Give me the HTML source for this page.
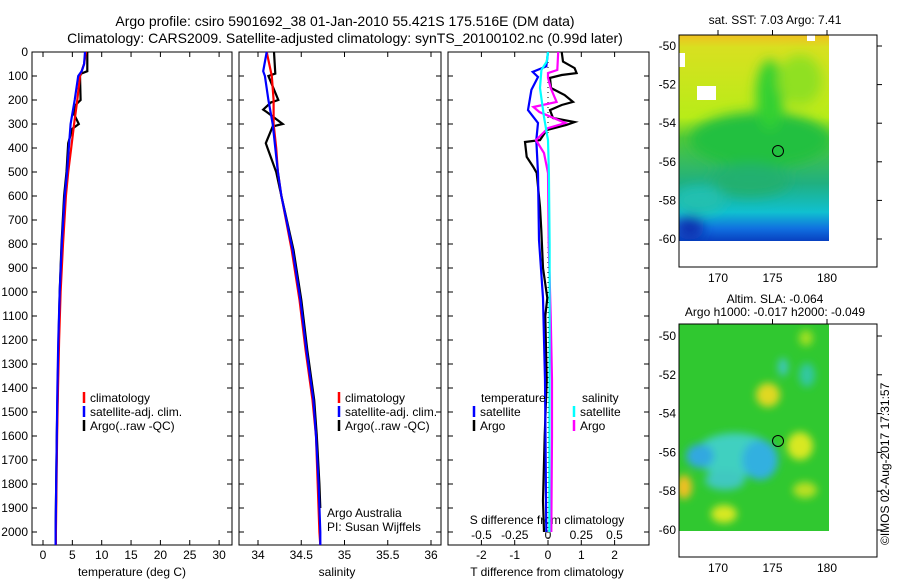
<!DOCTYPE html>
<html><head><meta charset="utf-8"><style>
html,body{margin:0;padding:0;background:#fff;}
svg{display:block;font-family:"Liberation Sans",sans-serif;}
text{fill:#000;}
</style></head><body>
<svg id="chart" width="900" height="580" viewBox="0 0 900 580" xmlns="http://www.w3.org/2000/svg">
<defs>
<filter id="blur1" x="-20%" y="-20%" width="140%" height="140%"><feGaussianBlur stdDeviation="6"/></filter>
<filter id="blur2" x="-50%" y="-50%" width="200%" height="200%"><feGaussianBlur stdDeviation="4"/></filter>
<clipPath id="clipMap1"><rect x="679" y="35" width="150" height="206"/></clipPath>
<clipPath id="clipMap2"><rect x="679" y="324" width="150" height="207"/></clipPath>
<linearGradient id="sstGrad" x1="0" y1="0" x2="0" y2="1">
<stop offset="0" stop-color="#f0c020"/><stop offset="0.06" stop-color="#d8e020"/><stop offset="0.4" stop-color="#b8ec18"/><stop offset="0.5" stop-color="#50c838"/><stop offset="0.72" stop-color="#20b080"/><stop offset="0.86" stop-color="#10c0d0"/><stop offset="0.94" stop-color="#1070e0"/><stop offset="1" stop-color="#0840c0"/>
</linearGradient>
</defs>
<g id="titles">
<text x="345" y="26" font-size="14" text-anchor="middle">Argo profile: csiro 5901692_38 01-Jan-2010 55.421S 175.516E (DM data)</text>
<text x="345" y="43" font-size="14" text-anchor="middle">Climatology: CARS2009. Satellite-adjusted climatology: synTS_20100102.nc (0.99d later)</text>
</g>
<g id="panels"></g>
<g id="maps">
<text x="775" y="24" font-size="12" text-anchor="middle">sat. SST: 7.03 Argo: 7.41</text>
<g clip-path="url(#clipMap1)">
<rect x="679" y="35" width="150" height="206" fill="url(#sstGrad)"/>
<g filter="url(#blur1)">
<ellipse cx="760" cy="140" rx="70" ry="28" fill="#20c040"/>
<ellipse cx="770" cy="95" rx="14" ry="35" fill="#30d030"/>
<ellipse cx="700" cy="200" rx="25" ry="14" fill="#20c0b0"/>
<ellipse cx="750" cy="180" rx="40" ry="16" fill="#20b070"/>
<ellipse cx="690" cy="228" rx="14" ry="12" fill="#0830b0"/>
<ellipse cx="800" cy="80" rx="22" ry="25" fill="#90e020"/>
</g>
<rect x="679" y="53" width="6" height="14" fill="#fff"/>
<rect x="697" y="86" width="19" height="14" fill="#fff"/>
<rect x="807" y="35" width="8" height="6" fill="#fff"/>
</g>
<circle cx="778" cy="151" r="5.5" fill="none" stroke="#000" stroke-width="1"/>
<rect x="679" y="35" width="198" height="232" fill="none" stroke="#000" stroke-width="1"/>
<text x="775" y="303" font-size="12" text-anchor="middle">Altim. SLA: -0.064</text>
<text x="775" y="316" font-size="12" text-anchor="middle">Argo h1000: -0.017 h2000: -0.049</text>
<g clip-path="url(#clipMap2)">
<rect x="679" y="324" width="150" height="207" fill="#30c830"/>
<g filter="url(#blur2)">
<ellipse cx="735" cy="455" rx="40" ry="22" fill="#40d0c0"/>
<ellipse cx="760" cy="460" rx="18" ry="20" fill="#30b0e0"/>
<ellipse cx="700" cy="456" rx="14" ry="12" fill="#30a8e0"/>
<ellipse cx="725" cy="480" rx="20" ry="10" fill="#40c8c0"/>
<ellipse cx="768" cy="395" rx="12" ry="12" fill="#e0d820"/>
<ellipse cx="800" cy="446" rx="13" ry="14" fill="#d8e820"/>
<ellipse cx="684" cy="487" rx="8" ry="12" fill="#f0c020"/>
<ellipse cx="724" cy="514" rx="13" ry="9" fill="#d8e820"/>
<ellipse cx="805" cy="490" rx="12" ry="8" fill="#b8e020"/>
<ellipse cx="807" cy="375" rx="8" ry="12" fill="#30c8a0"/>
<ellipse cx="783" cy="367" rx="5" ry="9" fill="#40c8c0"/>
<ellipse cx="806" cy="338" rx="7" ry="8" fill="#a0e020"/>
</g>
</g>
<circle cx="778" cy="441" r="5.5" fill="none" stroke="#000" stroke-width="1"/>
<rect x="679" y="324" width="198" height="233" fill="none" stroke="#000" stroke-width="1"/>
<g id="mapAxes"></g>
<text x="889" y="545" font-size="12" transform="rotate(-90 889 545)">©IMOS 02-Aug-2017 17:31:57</text>
</g>
</svg>
<script>
// ---- data ----
const depthTicks = [0,100,200,300,400,500,600,700,800,900,1000,1100,1200,1300,1400,1500,1600,1700,1800,1900,2000];
const tempTicks = [0,5,10,15,20,25,30];
const salTicks = [34,34.5,35,35.5,36];
const salTickLabels = ["34","34.5","35","35.5","36"];
const tdiffTicks = [-2,-1,0,1,2];
const sdiffTicks = [-0.5,-0.25,0,0.25,0.5];
const sdiffTickLabels = ["-0.5","-0.25","0","0.25","0.5"];

const climTDepth = [0,50,100,200,300,400,500,600,800,1000,1200,1400,1600,1800,2000,2054];
const climTVals  = [7.3,7.0,6.3,5.85,5.3,4.8,4.3,3.9,3.4,3.0,2.75,2.55,2.4,2.3,2.2,2.2];
const satTDepth  = [0,50,80,100,200,300,400,500,600,800,1000,1200,1400,1600,1800,2000,2054];
const satTVals   = [7.15,7.0,6.6,6.0,5.4,4.7,4.4,4.1,3.7,3.2,2.85,2.6,2.45,2.35,2.25,2.15,2.15];
const argoTDepth = [0,80,90,100,200,210,220,260,300,320,380,500,600,800,1000,1200,1400,1600,1800,2000];
const argoTVals  = [7.55,7.55,6.5,6.3,6.4,6.0,5.6,5.3,6.1,5.0,4.3,4.0,3.6,3.15,2.85,2.65,2.5,2.35,2.25,2.15];

const climSDepth = [0,100,200,300,400,500,600,825,1033,1242,1450,1600,1800,2000,2054];
const climSVals  = [34.10,34.16,34.18,34.18,34.21,34.23,34.27,34.39,34.48,34.55,34.63,34.67,34.69,34.71,34.72];
const satSDepth  = [0,80,100,200,300,400,500,600,825,1033,1242,1450,1600,1800,2000,2054];
const satSVals   = [34.10,34.06,34.08,34.12,34.17,34.20,34.23,34.27,34.40,34.49,34.56,34.64,34.67,34.70,34.72,34.72];
const argoSDepth = [0,90,100,200,210,240,250,300,310,380,400,500,600,825,1033,1242,1450,1600,1800,1900];
const argoSVals  = [34.185,34.20,34.12,34.235,34.15,34.06,34.10,34.285,34.17,34.09,34.11,34.21,34.27,34.41,34.50,34.57,34.65,34.68,34.71,34.72];

const dTArgoDepth = [0,40,67,88,96,108,150,179,208,221,242,275,292,304,325,367,375,437,479,504,646,742,900,1025,1100,1367,1600,1870,2000];
const dTArgoVals  = [0.41,0.45,0.8,0.86,0.41,0.06,0.09,0.5,0.75,0.41,0.06,0.15,0.8,0.55,-0.04,-0.24,-0.69,-0.64,-0.44,-0.34,-0.24,-0.2,-0.15,-0.02,-0.08,-0.04,-0.1,-0.15,-0.12];
const dTSatDepth  = [0,60,83,104,158,242,296,367,504,783,1025,1367,1700,2000];
const dTSatVals   = [0.0,-0.05,-0.46,-0.3,-0.5,-0.6,-0.3,-0.35,-0.3,-0.27,-0.15,-0.09,-0.07,-0.05];
const dSArgoDepth = [0,75,88,108,150,208,229,250,296,317,367,421,504,800,1100,1367,1600,2000];
const dSArgoVals  = [0.077,0.07,0.0,0.0,0.02,0.065,-0.11,-0.065,0.13,0.0,-0.09,-0.03,0.0,0.005,0.02,0.03,0.03,0.025];
const dSSatDepth  = [0,40,75,150,271,367,504,800,1200,2000];
const dSSatVals   = [0.0,-0.01,-0.05,-0.06,-0.03,0.0,0.007,0.012,0.012,0.01];

// ---- layout / scales ----
const NS = "http://www.w3.org/2000/svg";
const TOP = 52, BOT = 545;
const yDepth = d => TOP + d * 0.24;
const xTemp = t => 43 + t * 5.87;
const xSal = s => 258 + (s - 34) * 86.5;
const xTd = v => 548 + v * 33.3;
const xSd = v => 548 + v * 133;
const svg = document.getElementById("chart");
const panelsG = document.getElementById("panels");

function mk(tag, attrs, parent) {
  const e = document.createElementNS(NS, tag);
  for (const k in attrs) e.setAttribute(k, attrs[k]);
  (parent || panelsG).appendChild(e);
  return e;
}
function txt(x, y, s, size, anchor, parent) {
  const t = mk("text", {x: x, y: y, "font-size": size, "text-anchor": anchor || "middle"}, parent);
  t.textContent = s;
  return t;
}
function stepPath(depths, vals, xf) {
  let d = "";
  for (let i = 0; i < depths.length; i++) {
    const x = xf(vals[i]).toFixed(1), y = yDepth(depths[i]).toFixed(1);
    d += (i === 0 ? "M" : "L") + x + " " + y;
  }
  return d;
}

const panels = [
  {name: "temperature-panel", x0: 32, x1: 232},
  {name: "salinity-panel", x0: 239, x1: 441},
  {name: "difference-panel", x0: 448, x1: 649}
];
panels.forEach(p => {
  const g = mk("g", {});
  
  
  p.g = g;
  const r = mk("rect", {x: p.x0, y: TOP, width: p.x1 - p.x0, height: BOT - TOP, fill: "none", stroke: "#000", "stroke-width": 1}, g);
  
  
  depthTicks.forEach(d => {
    const y = yDepth(d);
    const t1 = mk("line", {x1: p.x0, x2: p.x0 + 5, y1: y, y2: y, stroke: "#000"}, g);
    
    
    const t2 = mk("line", {x1: p.x1 - 5, x2: p.x1, y1: y, y2: y, stroke: "#000"}, g);
    
    
  });
});
// depth labels
depthTicks.forEach(d => {
  const t = txt(28, yDepth(d) + 4, String(d), 12, "end");
  
  
});
function xTicks(vals, labels, xf, g, labelY) {
  vals.forEach((v, i) => {
    const x = xf(v);
    const a = mk("line", {x1: x, x2: x, y1: BOT, y2: BOT - 5, stroke: "#000"}, g);
    
    
    const b = mk("line", {x1: x, x2: x, y1: TOP, y2: TOP + 5, stroke: "#000"}, g);
    
    
    if (labelY) {
      const t = txt(x, labelY, labels[i], 12, "middle", g);
      
      
    }
  });
}
xTicks(tempTicks, tempTicks.map(String), xTemp, panels[0].g, 559);
xTicks(salTicks, salTickLabels, xSal, panels[1].g, 559);
xTicks(tdiffTicks, tdiffTicks.map(String), xTd, panels[2].g, 559);
sdiffTicks.forEach((v, i) => {
  const t = txt(xSd(v), 539, sdiffTickLabels[i], 12, "middle", panels[2].g);
  
  
});
let at;
at = txt(132, 576, "temperature (deg C)", 12, "middle", panels[0].g);


at = txt(337, 576, "salinity", 12, "middle", panels[1].g);


at = txt(547, 576, "T difference from climatology", 12, "middle", panels[2].g);


at = txt(547, 524, "S difference from climatology", 12, "middle", panels[2].g);



// zero dotted line
const zl = mk("line", {x1: xTd(0), x2: xTd(0), y1: TOP, y2: BOT, stroke: "#000", "stroke-width": 1, "stroke-dasharray": "1 4"}, panels[2].g);



function series(depths, vals, xf, color, g, name) {
  const p = mk("path", {d: stepPath(depths, vals, xf), fill: "none", stroke: color, "stroke-width": 2.2, "stroke-linejoin": "miter"}, g);
  
  
}
series(argoTDepth, argoTVals, xTemp, "#000", panels[0].g, "argo-temperature-line");
series(climTDepth, climTVals, xTemp, "#ff0000", panels[0].g, "climatology-temperature-line");
series(satTDepth, satTVals, xTemp, "#0000ff", panels[0].g, "satellite-temperature-line");
series(argoSDepth, argoSVals, xSal, "#000", panels[1].g, "argo-salinity-line");
series(climSDepth, climSVals, xSal, "#ff0000", panels[1].g, "climatology-salinity-line");
series(satSDepth, satSVals, xSal, "#0000ff", panels[1].g, "satellite-salinity-line");
series(dTArgoDepth, dTArgoVals, xTd, "#000", panels[2].g, "argo-t-diff-line");
series(dTSatDepth, dTSatVals, xTd, "#0000ff", panels[2].g, "satellite-t-diff-line");
series(dSArgoDepth, dSArgoVals, xSd, "#ff00ff", panels[2].g, "argo-s-diff-line");
series(dSSatDepth, dSSatVals, xSd, "#00ffff", panels[2].g, "satellite-s-diff-line");

function legendEntry(x, y, color, label, g) {
  const lg = mk("g", {}, g);
  
  
  if (color) mk("line", {x1: x, x2: x, y1: y - 10, y2: y + 1, stroke: color, "stroke-width": 2.5}, lg);
  txt(x + 6, y, label, 12, "start", lg);
}
[[84, "#ff0000", "climatology"], [84, "#0000ff", "satellite-adj. clim."], [84, "#000", "Argo(..raw -QC)"]].forEach((e, i) => legendEntry(e[0], 402 + i * 14, e[1], e[2], panels[0].g));
[[339, "#ff0000", "climatology"], [339, "#0000ff", "satellite-adj. clim."], [339, "#000", "Argo(..raw -QC)"]].forEach((e, i) => legendEntry(e[0], 402 + i * 14, e[1], e[2], panels[1].g));
at = txt(481, 402, "temperature", 12, "start", panels[2].g);


at = txt(582, 402, "salinity", 12, "start", panels[2].g);


legendEntry(474, 416, "#0000ff", "satellite", panels[2].g);
legendEntry(474, 430, "#000", "Argo", panels[2].g);
legendEntry(574, 416, "#00ffff", "satellite", panels[2].g);
legendEntry(574, 430, "#ff00ff", "Argo", panels[2].g);
at = txt(327, 517, "Argo Australia", 12, "start", panels[1].g);


at = txt(327, 531, "PI: Susan Wijffels", 12, "start", panels[1].g);



// map axes
const lonTicks = [170, 175, 180];
const latTicks = [-50, -52, -54, -56, -58, -60];
const xLon = l => 718 + (l - 170) * 10.9;
const mapAxes = document.getElementById("mapAxes");
[{top: 35, bot: 267, lat50: 46, lat60: 239, name: "sst"}, {top: 324, bot: 557, lat50: 336, lat60: 530, name: "sla"}].forEach(m => {
  const yLat = l => m.lat50 + (-50 - l) * (m.lat60 - m.lat50) / 10;
  lonTicks.forEach(l => {
    const a = mk("line", {x1: xLon(l), x2: xLon(l), y1: m.top, y2: m.top - 5, stroke: "#000"}, mapAxes);
    
    
    const t = txt(xLon(l), m.bot + 15, String(l), 12, "middle", mapAxes);
    
    
  });
  latTicks.forEach(l => {
    const a = mk("line", {x1: 877, x2: 882, y1: yLat(l), y2: yLat(l), stroke: "#000"}, mapAxes);
    
    
    const t = txt(676, yLat(l) + 4, String(l), 12, "end", mapAxes);
    
    
  });
});
</script>
</body></html>
